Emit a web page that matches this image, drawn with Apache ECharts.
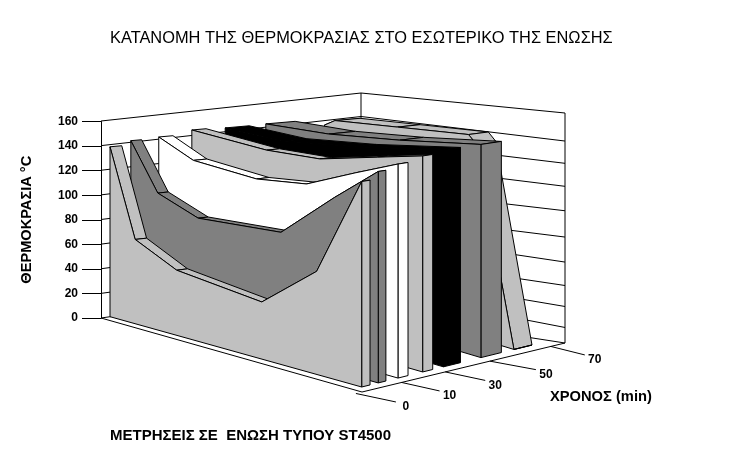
<!DOCTYPE html>
<html><head><meta charset="utf-8">
<style>html,body{margin:0;padding:0;background:#fff}#c{width:737px;height:457px}</style>
<script src="https://cdn.jsdelivr.net/npm/echarts@6/dist/echarts.min.js"></script>
</head><body><div id="c"></div>
<script>
// ---- data ----
const titleText = 'ΚΑΤΑΝΟΜΗ ΤΗΣ ΘΕΡΜΟΚΡΑΣΙΑΣ ΣΤΟ ΕΣΩΤΕΡΙΚΟ ΤΗΣ ΕΝΩΣΗΣ';
const yName = 'ΘΕΡΜΟΚΡΑΣΙΑ °C';
const depthName = 'ΧΡΟΝΟΣ (min)';
const footText = 'ΜΕΤΡΗΣΕΙΣ ΣΕ  ΕΝΩΣΗ ΤΥΠΟΥ ST4500';
const depthLabels = [0, 10, 30, 50, 70];
const depthTickAt = [-0.03, 0.195, 0.41, 0.63, 0.93];
const depthTickLen = [40, 38, 40, 46, 34];

// Position across the joint (0..1) and temperature, one pair of lists per curve
const pos0 = [0, 0.1, 0.265, 0.603, 0.821, 1];
const val0 = [138, 67, 50, 41, 71, 137];
const pos1 = [-0.01, 0.1, 0.265, 0.603, 0.821, 1];
const val1 = [141, 102, 88, 89, 120, 142];
const pos2 = [-0.01, 0.136, 0.403, 0.614, 0.82, 1];
const val2 = [142, 127, 120, 122, 135, 145];
const pos3 = [-0.018, 0.312, 0.547, 0.8, 1];
const val3 = [145, 137, 136, 143, 148];
const pos4 = [0, 0.27, 0.6, 1];
const val4 = [145, 141, 144, 150];
const pos5 = [-0.06, 0.25, 0.6, 1];
const val5 = [143, 142, 145, 150];
const pos6 = [0, 0.055, 0.385, 0.76, 0.8, 1];
const val6 = [140, 145, 147, 149, 143, 0];

const depthFront = [0, 0.097, 0.213, 0.358, 0.48, 0.70, 0.894];
const depthBack = [0.049, 0.142, 0.272, 0.417, 0.58, 0.82, 1];
const curveColors = ['#c0c0c0', '#808080', '#ffffff', '#c0c0c0', '#000000', '#808080', '#c0c0c0'];
const curvePos = [pos0, pos1, pos2, pos3, pos4, pos5, pos6];
const curveVal = [val0, val1, val2, val3, val4, val5, val6];

// wall gridlines: level where each line meets the right edge and the back corner
const wallRightLevels = [160, 140.5, 125, 109, 92, 73.7, 56.3, 40, 25.4, 10.8, 0];
const wallBackLevels = [160, 140, 121, 102, 80, 59, 42, 22, 7.7, -6, -26];
const wallLeftLevels = [160, 140, 120, 100, 80, 60, 40, 20, 0];

// ---- oblique view of the box (scale, not data) ----
const VMAX = 160;
const inner = { // L, F, R, B corners of the floor area the curves stand on: [x, y, height of 160]
  L: [110, 316.7, 197], F: [361.7, 387, 240], R: [532, 345, 222], B: [350, 289, 190]
};
const outer = { L: [101, 318, 197], F: [362, 392, 245], R: [565, 343, 230], B: [361, 281, 188] };
function project(box, u, v, value) {
  const m = k => (1 - u) * (1 - v) * box.L[k] + u * (1 - v) * box.F[k] + u * v * box.R[k] + (1 - u) * v * box.B[k];
  return [m(0), m(1) - m(2) * value / VMAX];
}

function poly(pts, fill, api) {
  return { type: 'polygon', shape: { points: pts.map(p => api.coord(p)) },
           style: { fill: fill, stroke: '#000', lineWidth: 1, lineJoin: 'round' } };
}
function seg(a, b, api) {
  const p = api.coord(a), q = api.coord(b);
  return { type: 'line', shape: { x1: p[0], y1: p[1], x2: q[0], y2: q[1] },
           style: { stroke: '#000', lineWidth: 1, fill: null } };
}

function curveRenderer(k) {
  return function (params, api) {
    const i = params.dataIndex, P = curvePos[k], V = curveVal[k], vf = depthFront[k], vb = depthBack[k], col = curveColors[k];
    const kids = [];
    const pf = j => project(inner, P[j], vf, V[j]);
    const pb = j => project(inner, P[j], vb, V[j]);
    if (i < P.length - 1) {
      kids.push(poly([pf(i), pf(i + 1), pb(i + 1), pb(i)], col, api));
    } else {
      const n = P.length - 1;
      kids.push(poly([pf(n), pb(n), project(inner, P[n], vb, 0), project(inner, P[n], vf, 0)], col, api));
      const front = P.map((_, j) => pf(j));
      front.push(project(inner, P[n], vf, 0), project(inner, P[0], vf, 0));
      kids.push(poly(front, col, api));
    }
    return { type: 'group', children: kids };
  };
}

const curveSeries = [6, 5, 4, 3, 2, 1, 0].map(k => ({
  type: 'custom', name: 'curve' + k, xAxisIndex: 0, yAxisIndex: 0, clip: false, silent: true,
  z: 10 + (6 - k), renderItem: curveRenderer(k),
  data: curvePos[k].map((p, j) => [p, curveVal[k][j]])
}));

const wallSeries = {
  type: 'custom', name: 'walls', xAxisIndex: 0, yAxisIndex: 0, clip: false, silent: true, z: 2,
  data: wallRightLevels.map((r, i) => [r, wallBackLevels[i]]),
  renderItem(params, api) {
    const i = params.dataIndex, kids = [];
    kids.push(seg(project(outer, 0, 1, wallBackLevels[i]), project(outer, 1, 1, wallRightLevels[i]), api));
    if (i < wallLeftLevels.length)
      kids.push(seg(project(outer, 0, 0, wallLeftLevels[i]), project(outer, 0, 1, wallLeftLevels[i]), api));
    if (i === 0) {
      kids.push(seg(project(outer, 0, 1, 160), project(outer, 0, 1, 0), api));
      kids.push(seg(project(outer, 1, 1, 160), project(outer, 1, 1, 0), api));
      kids.push(seg(project(outer, 0, 0, 0), project(outer, 1, 0, 0), api));
      kids.push(seg(project(outer, 1, 0, 0), project(outer, 1, 1, 0), api));
    }
    return { type: 'group', children: kids };
  }
};

const depthSeries = {
  type: 'custom', name: 'depthAxis', xAxisIndex: 0, yAxisIndex: 0, clip: false, silent: true, z: 30,
  data: depthLabels.map((d, i) => [depthTickAt[i], d]),
  renderItem(params, api) {
    const t = api.value(0), a = project(outer, 1, t, 0), len = depthTickLen[params.dataIndex];
    const b = [a[0] + len, a[1] + 8.5];
    const c = api.coord(b);
    return { type: 'group', children: [
      seg(a, b, api),
      { type: 'text', x: c[0] + 10, y: c[1] + 5,
        style: { text: String(api.value(1)), font: 'bold 12px "Liberation Sans"', fill: '#000', align: 'center', verticalAlign: 'middle' } }
    ] };
  }
};

const chart = echarts.init(document.getElementById('c'), null, { renderer: 'canvas' });
chart.setOption({
  animation: false,
  backgroundColor: '#fff',
  title: [
    { text: titleText, left: 110, top: 30, textStyle: { fontFamily: 'Liberation Sans', fontSize: 16.4, fontWeight: 'normal', color: '#000' }, padding: 0 },
    { text: depthName, left: 550, top: 389, textStyle: { fontFamily: 'Liberation Sans', fontSize: 14.7, fontWeight: 'bold', color: '#000' }, padding: 0 },
    { text: footText, left: 110, top: 428, textStyle: { fontFamily: 'Liberation Sans', fontSize: 15, fontWeight: 'bold', color: '#000' }, padding: 0 }
  ],
  grid: [
    { left: 0, top: 0, width: 737, height: 457, containLabel: false },
    { left: 101, top: 121.5, width: 10, height: 196.5, containLabel: false }
  ],
  xAxis: [
    { type: 'value', gridIndex: 0, min: 0, max: 737, show: false },
    { type: 'value', gridIndex: 1, min: 0, max: 1, show: false }
  ],
  yAxis: [
    { type: 'value', gridIndex: 0, min: 0, max: 457, inverse: true, show: false },
    { type: 'value', gridIndex: 1, min: 0, max: VMAX, interval: 20, position: 'left',
      axisLine: { show: true, lineStyle: { color: '#000', width: 1 } },
      axisTick: { show: true, length: 19, lineStyle: { color: '#000', width: 1 } },
      splitLine: { show: false },
      axisLabel: { margin: 23, color: '#000', fontFamily: 'Liberation Sans', fontSize: 12, fontWeight: 'bold' },
      name: yName, nameLocation: 'middle', nameGap: 67, nameRotate: 90,
      nameTextStyle: { color: '#000', fontFamily: 'Liberation Sans', fontSize: 14.6, fontWeight: 'bold' } }
  ],
  series: [wallSeries, ...curveSeries, depthSeries]
});
</script></body></html>
